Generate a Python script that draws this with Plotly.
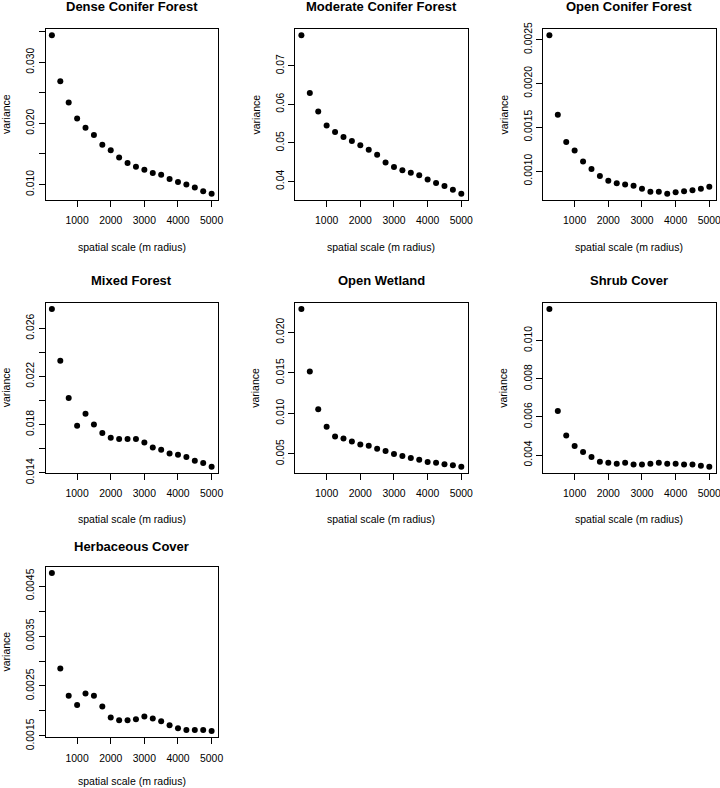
import plotly.graph_objects as go

# ---------------- data ----------------
scale_m = [250, 500, 750, 1000, 1250, 1500, 1750, 2000, 2250, 2500,
           2750, 3000, 3250, 3500, 3750, 4000, 4250, 4500, 4750, 5000]

panel_titles = ["Dense Conifer Forest", "Moderate Conifer Forest", "Open Conifer Forest",
                "Mixed Forest", "Open Wetland", "Shrub Cover", "Herbaceous Cover"]

dense_conifer = [0.0344, 0.0269, 0.0234, 0.0208, 0.0193, 0.0181, 0.0165, 0.0156, 0.0144, 0.0135,
                 0.0129, 0.0124, 0.0119, 0.0116, 0.0109, 0.0104, 0.0100, 0.0095, 0.0089, 0.0085]
moderate_conifer = [0.0779, 0.0629, 0.0581, 0.0545, 0.0528, 0.0515, 0.0505, 0.0494, 0.0482, 0.0469,
                    0.0449, 0.0437, 0.0429, 0.0422, 0.0416, 0.0405, 0.0396, 0.0388, 0.0378, 0.0368]
open_conifer = [0.002549, 0.001644, 0.001333, 0.001235, 0.001110, 0.001023, 0.000943, 0.000890,
                0.000860, 0.000848, 0.000833, 0.000799, 0.000765, 0.000765, 0.000742, 0.000758,
                0.000769, 0.000780, 0.000799, 0.000822]
mixed_forest = [0.0276, 0.0233, 0.0202, 0.0179, 0.0189, 0.0180, 0.0173, 0.0169, 0.0168, 0.0168,
                0.0168, 0.0165, 0.0161, 0.0159, 0.0156, 0.0155, 0.0153, 0.0150, 0.0148, 0.0145]
open_wetland = [0.02287, 0.01516, 0.01049, 0.00832, 0.00713, 0.00689, 0.00652, 0.00615, 0.00598,
                0.00561, 0.00533, 0.00496, 0.00471, 0.00447, 0.00426, 0.00398, 0.00389, 0.00369,
                0.00357, 0.00340]
shrub_cover = [0.01165, 0.00631, 0.00502, 0.00447, 0.00416, 0.00390, 0.00365, 0.00360, 0.00355,
               0.00360, 0.00350, 0.00350, 0.00355, 0.00360, 0.00355, 0.00355, 0.00350, 0.00350,
               0.00344, 0.00339]
herbaceous_cover = [0.00476, 0.002852, 0.002303, 0.002122, 0.002350, 0.002303, 0.002089, 0.001868,
                    0.001815, 0.001815, 0.001835, 0.001888, 0.001848, 0.001795, 0.001714, 0.001654,
                    0.001620, 0.001620, 0.001620, 0.001600]

series = [dense_conifer, moderate_conifer, open_conifer, mixed_forest,
          open_wetland, shrub_cover, herbaceous_cover]

x_tickvals = [1000, 2000, 3000, 4000, 5000]
x_ticktext = ["1000", "2000", "3000", "4000", "5000"]

y_tickvals = [
    [0.010, 0.015, 0.020, 0.025, 0.030, 0.035],
    [0.04, 0.05, 0.06, 0.07],
    [0.0010, 0.0015, 0.0020, 0.0025],
    [0.014, 0.016, 0.018, 0.020, 0.022, 0.024, 0.026],
    [0.005, 0.010, 0.015, 0.020],
    [0.004, 0.006, 0.008, 0.010],
    [0.0015, 0.0020, 0.0025, 0.0030, 0.0035, 0.0040, 0.0045],
]
y_ticktext = [
    ["0.010", "", "0.020", "", "0.030", ""],
    ["0.04", "0.05", "0.06", "0.07"],
    ["0.0010", "0.0015", "0.0020", "0.0025"],
    ["0.014", "", "0.018", "", "0.022", "", "0.026"],
    ["0.005", "0.010", "0.015", "0.020"],
    ["0.004", "0.006", "0.008", "0.010"],
    ["0.0015", "", "0.0025", "", "0.0035", "", "0.0045"],
]

x_label = "spatial scale (m radius)"
y_label = "variance"

# ---------------- layout ----------------
W, H = 720, 788
FONT = "Liberation Sans, Arial, sans-serif"
col_px = [(45.5, 218.0), (295.0, 467.7), (543.0, 715.7)]
row_px = [(29.0, 200.0), (302.7, 473.0), (566.7, 737.3)]
title_y_px = [6.8, 280.3, 546.7]
xlabel_y_px = [247.3, 519.0, 781.0]

fig = go.Figure()
annotations = []
layout_axes = {}

for i, (title, vals) in enumerate(zip(panel_titles, series)):
    r, c = divmod(i, 3)
    n = "" if i == 0 else str(i + 1)
    l_px, r_px = col_px[c]
    t_px, b_px = row_px[r]

    fig.add_trace(go.Scatter(
        x=scale_m, y=vals, mode="markers",
        marker=dict(color="black", size=6, line=dict(width=0)),
        xaxis="x" + n, yaxis="y" + n, showlegend=False, hoverinfo="x+y"))

    xmin, xmax = min(scale_m), max(scale_m)
    xpad = 0.04 * (xmax - xmin)
    ymin, ymax = min(vals), max(vals)
    ypad = 0.04 * (ymax - ymin)

    common = dict(showgrid=False, zeroline=False, showline=True, mirror=True,
                  automargin=False, ticklabeloverflow="allow",
                  linecolor="black", linewidth=1, ticks="outside", ticklen=6,
                  tickwidth=1, tickcolor="black",
                  tickfont=dict(family=FONT, size=10.4, color="black"))
    layout_axes["xaxis" + n] = dict(
        common, domain=[l_px / W, r_px / W], anchor="y" + n,
        range=[xmin - xpad, xmax + xpad], ticklabelstandoff=5,
        tickmode="array", tickvals=x_tickvals, ticktext=x_ticktext)
    layout_axes["yaxis" + n] = dict(
        common, domain=[1 - b_px / H, 1 - t_px / H], anchor="x" + n,
        range=[ymin - ypad, ymax + ypad],
        tickmode="array", tickvals=y_tickvals[i], ticktext=y_ticktext[i],
        tickangle=-90)

    cx = (l_px + r_px) / 2
    annotations.append(dict(
        text="<b>" + title + "</b>", x=cx / W, y=1 - title_y_px[r] / H,
        xref="paper", yref="paper", xanchor="center", yanchor="middle",
        showarrow=False, font=dict(family=FONT, size=13, color="black")))
    annotations.append(dict(
        text=x_label, x=cx / W, y=1 - xlabel_y_px[r] / H,
        xref="paper", yref="paper", xanchor="center", yanchor="middle",
        borderpad=0, showarrow=False,
        font=dict(family=FONT, size=10.5, color="black")))
    annotations.append(dict(
        text=y_label, x=(l_px - 40) / W, y=1 - ((t_px + b_px) / 2) / H,
        xref="paper", yref="paper", xanchor="center", yanchor="middle",
        textangle=-90, showarrow=False,
        font=dict(family=FONT, size=10.5, color="black")))

fig.update_layout(
    template="none",
    width=W, height=H, autosize=False,
    margin=dict(l=0, r=0, t=0, b=0, pad=0, autoexpand=False),
    paper_bgcolor="white", plot_bgcolor="white",
    annotations=annotations,
    **layout_axes)

fig.write_html(
    "out.html",
    config={"displayModeBar": False, "responsive": False},
    post_script="document.body.style.margin='0';document.body.style.overflow='hidden';")
